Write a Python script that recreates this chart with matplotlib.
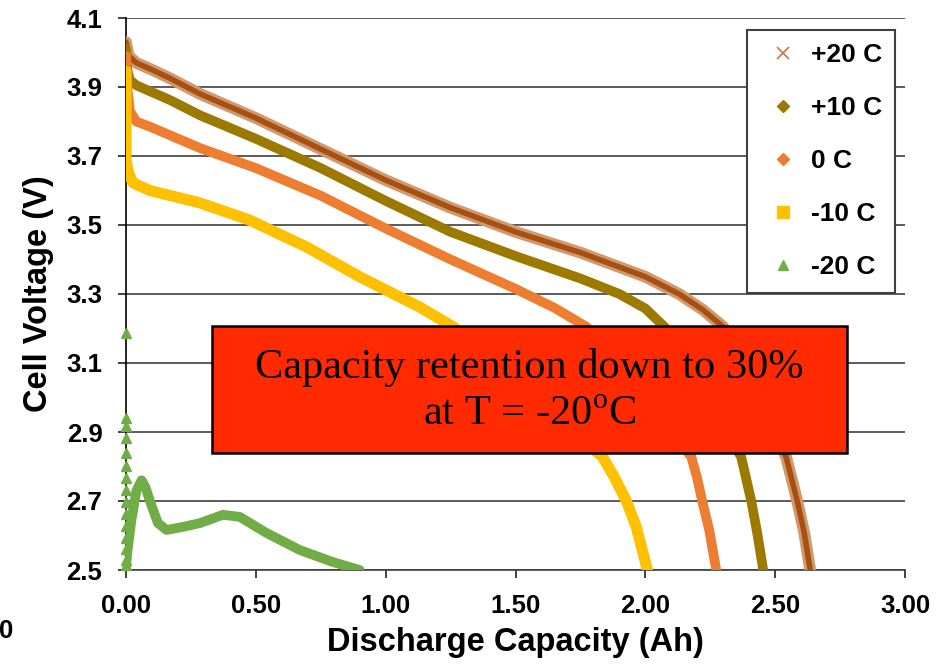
import matplotlib
matplotlib.use("Agg")
import matplotlib.pyplot as plt
from matplotlib.lines import Line2D
from matplotlib.patches import Rectangle

plt.rcParams['font.family'] = ['Liberation Sans', 'DejaVu Sans']
plt.rcParams['font.weight'] = 'bold'
plt.rcParams['mathtext.fontset'] = 'custom'
plt.rcParams['mathtext.rm'] = 'Liberation Serif:normal'

# datos: capacidad (Ah) y voltaje (V)
cap_p20 = [0.000, 0.010, 0.040, 0.100, 0.170, 0.285, 0.500, 0.750, 1.000, 1.250, 1.500, 1.750, 2.000, 2.130, 2.220, 2.300,
           2.542, 2.585, 2.612, 2.635]
volt_p20 = [4.030, 3.990, 3.970, 3.950, 3.925, 3.880, 3.810, 3.720, 3.630, 3.550, 3.480, 3.420, 3.350, 3.300, 3.255, 3.205,
            2.828, 2.700, 2.607, 2.500]

cap_p10 = [0.000, 0.005, 0.015, 0.040, 0.100, 0.170, 0.285, 0.500, 0.750, 1.000, 1.250, 1.500, 1.750, 1.900, 2.000, 2.080,
           2.369, 2.408, 2.431, 2.454]
volt_p10 = [4.010, 3.950, 3.920, 3.905, 3.885, 3.862, 3.818, 3.750, 3.665, 3.570, 3.480, 3.410, 3.345, 3.300, 3.258, 3.200,
            2.828, 2.700, 2.607, 2.500]

cap_0 = [0.000, 0.005, 0.015, 0.040, 0.092, 0.285, 0.500, 0.750, 1.000, 1.250, 1.500, 1.650, 1.773,
         2.177, 2.200, 2.219, 2.246, 2.273]
volt_0 = [3.990, 3.900, 3.830, 3.800, 3.785, 3.723, 3.665, 3.585, 3.490, 3.400, 3.315, 3.260, 3.205,
          2.828, 2.765, 2.700, 2.616, 2.500]

cap_m10 = [0.000, 0.000, 0.010, 0.027, 0.092, 0.285, 0.477, 0.696, 0.900, 1.131, 1.260,
           1.835, 1.880, 1.927, 1.965, 2.008]
volt_m10 = [3.945, 3.690, 3.650, 3.622, 3.600, 3.564, 3.514, 3.436, 3.350, 3.262, 3.205,
            2.828, 2.770, 2.700, 2.625, 2.500]

# -20 C: puntos sueltos al inicio (x = 0) y luego la curva
cap_m20_ini = [0.0] * 15
volt_m20_ini = [3.187, 2.940, 2.916, 2.882, 2.838, 2.800, 2.766, 2.732, 2.697, 2.663, 2.628, 2.594, 2.560, 2.530, 2.514]
cap_m20 = [0.000, 0.005, 0.020, 0.040, 0.060, 0.075, 0.092, 0.123, 0.156, 0.220, 0.285, 0.373, 0.438, 0.542, 0.669, 0.797, 0.900]
volt_m20 = [2.510, 2.550, 2.640, 2.730, 2.760, 2.740, 2.700, 2.636, 2.616, 2.625, 2.636, 2.660, 2.654, 2.607, 2.558, 2.523, 2.500]

labels = ['+20 C', '+10 C', '0 C', '-10 C', '-20 C']
colors = ['#A8500F', '#9C7A00', '#ED7D31', '#FFC000', '#70AD47']

x_ticks = [0.0, 0.5, 1.0, 1.5, 2.0, 2.5, 3.0]
y_ticks = [2.5, 2.7, 2.9, 3.1, 3.3, 3.5, 3.7, 3.9, 4.1]

fig = plt.figure(figsize=(9.43, 6.66), dpi=100)
ax = fig.add_axes([126 / 943, 1 - 570 / 666, 779 / 943, 552 / 666])

# curvas (bandas gruesas como en el original)
estilo = dict(solid_capstyle='round', solid_joinstyle='round', zorder=3)
ax.plot(cap_p20, volt_p20, color='#D09A70', lw=8.5, **estilo)
ax.plot(cap_p20, volt_p20, color=colors[0], lw=4, **estilo)
ax.plot(cap_p10, volt_p10, color=colors[1], lw=7, **estilo)
ax.plot(cap_0, volt_0, color=colors[2], lw=7, **estilo)
ax.plot(cap_m10, volt_m10, color=colors[3], lw=8, **estilo)
ax.plot(cap_m20, volt_m20, color=colors[4], lw=7, **estilo)
ax.plot(cap_m20_ini, volt_m20_ini, ls='none', marker='^', ms=7, color=colors[4], zorder=3, clip_on=False)

ax.set_xlim(0, 3.0)
ax.set_ylim(2.5, 4.1)
ax.set_xticks(x_ticks)
ax.set_yticks(y_ticks)
ax.set_xticklabels(['%.2f' % v for v in x_ticks])
ax.set_yticklabels(['%.1f' % v for v in y_ticks])
ax.tick_params(axis='both', labelsize=18.5, length=6, width=1.2, pad=11, direction='out', color='#202020')

# solo lineas horizontales
ax.yaxis.grid(True, color='#404040', lw=1.2)
ax.set_axisbelow(True)
ax.spines['top'].set_visible(False)
ax.spines['right'].set_visible(False)
ax.spines['left'].set_linewidth(1.2)
ax.spines['bottom'].set_linewidth(1.2)
ax.spines['bottom'].set_color('#404040')

ax.set_xlabel('Discharge Capacity (Ah)', fontsize=23.5, fontweight='bold', labelpad=7)
ax.set_ylabel('Cell Voltage (V)', fontsize=23.5, fontweight='bold', labelpad=9)

# leyenda
handles = [
    Line2D([], [], ls='none', marker='x', ms=8, mew=1.2, color='#C0784A'),
    Line2D([], [], ls='none', marker='D', ms=6, color=colors[1]),
    Line2D([], [], ls='none', marker='D', ms=6, color=colors[2]),
    Line2D([], [], ls='none', marker='s', ms=8, color=colors[3]),
    Line2D([], [], ls='none', marker='^', ms=7, color=colors[4]),
]
leg = ax.legend(handles, labels, loc='upper right', bbox_to_anchor=(0.987, 0.978),
                prop={'size': 19, 'weight': 'bold'}, frameon=True, fancybox=False,
                edgecolor='#404040', framealpha=1, labelspacing=1.1, borderpad=0.5,
                handlelength=1.7, handletextpad=0.2, borderaxespad=0)
leg.get_frame().set_linewidth(1.5)

# recuadro rojo con el mensaje
fig.patches.append(Rectangle((212 / 943, 1 - 453 / 666), 635 / 943, 127 / 666,
                             transform=fig.transFigure, facecolor='#FF2A00',
                             edgecolor='black', lw=1.8, zorder=5))
fig.text(529.5 / 943, 1 - 391 / 666, 'Capacity retention down to 30%\nat T = -20$^{\\rm o}$C',
         ha='center', va='center', multialignment='center', fontsize=30.5,
         family='Liberation Serif', fontweight='normal', linespacing=1.3, zorder=6)

# "0" suelto abajo a la izquierda
fig.text(13 / 943, 1 - 631 / 666, '0', ha='right', va='center', fontsize=18.5, fontweight='bold')

fig.savefig('out.png', dpi=100)
